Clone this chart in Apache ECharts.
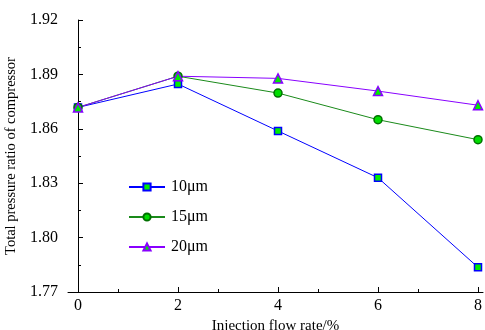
<!DOCTYPE html>
<html><head><meta charset="utf-8">
<script src="https://cdn.jsdelivr.net/npm/echarts@6/dist/echarts.min.js"></script>
<style>html,body{margin:0;padding:0;background:#fff}#c{width:485px;height:330px}</style>
</head><body><div id="c"></div>
<script>
const xValues = [0, 2, 4, 6, 8];
const s10 = [1.8718, 1.8847, 1.8588, 1.8330, 1.7836];
const s15 = [1.8718, 1.8890, 1.8797, 1.8650, 1.8540];
const s20 = [1.8718, 1.8890, 1.8878, 1.8808, 1.8730];
const names = ['10\u03bcm', '15\u03bcm', '20\u03bcm'];

const font = 'Liberation Serif, Times New Roman, serif';
const chart = echarts.init(document.getElementById('c'));
function mk(name, data, lineColor, symbol, border, fill, size) {
  return {
    name, type: 'line', data: xValues.map((x, i) => [x, data[i]]),
    symbol, symbolSize: size,
    lineStyle: { color: lineColor, width: 1 },
    itemStyle: { color: fill, borderColor: border, borderWidth: 1.5 },
    color: lineColor,
    z: 3
  };
}
chart.setOption({
  animation: false,
  grid: { left: 68, top: 20, right: 2, bottom: 38, containLabel: false, outerBoundsMode: 'none' },
  legend: {
    left: 123, top: 174, orient: 'vertical', itemGap: 14,
    itemWidth: 36, itemHeight: 9,
    textStyle: { fontFamily: font, fontSize: 16, color: '#000', padding: [0,0,0,1] },
    data: names
  },
  xAxis: {
    type: 'value', min: -0.2, max: 8.1, interval: 2,
    name: 'Injection flow rate/%', nameLocation: 'middle', nameGap: 22,
    nameTextStyle: { fontFamily: font, fontSize: 15, color: '#000' },
    axisLine: { lineStyle: { color: '#000', width: 1 } },
    axisTick: { inside: true, length: 5, lineStyle: { color: '#000' }, customValues: [0,2,4,6,8] },
    minorTick: { show: true, splitNumber: 2, length: 3, lineStyle: { color: '#000' } },
    axisLabel: { fontFamily: font, fontSize: 16, color: '#000', margin: 6, customValues: [0,2,4,6,8] },
    splitLine: { show: false }
  },
  yAxis: {
    type: 'value', min: 1.77, max: 1.92, interval: 0.03,
    name: 'Total pressure ratio of compressor', nameLocation: 'middle', nameGap: 42,
    nameTextStyle: { fontFamily: font, fontSize: 14.5, color: '#000' },
    axisLine: { show: true, lineStyle: { color: '#000', width: 1 } },
    axisTick: { show: true, inside: true, length: 5, lineStyle: { color: '#000' } },
    minorTick: { show: true, splitNumber: 2, length: 3, lineStyle: { color: '#000' } },
    axisLabel: { fontFamily: font, fontSize: 16, color: '#000', margin: 10, formatter: v => v.toFixed(2) },
    splitLine: { show: false }
  },
  series: [
    mk(names[0], s10, '#0000ff', 'rect', '#0000ff', '#00ee00', 7),
    mk(names[1], s15, '#1a8a1a', 'circle', '#007000', '#00dd00', 8),
    mk(names[2], s20, '#8800ff', 'triangle', '#8800ff', '#00ee00', 9)
  ]
});
</script></body></html>
